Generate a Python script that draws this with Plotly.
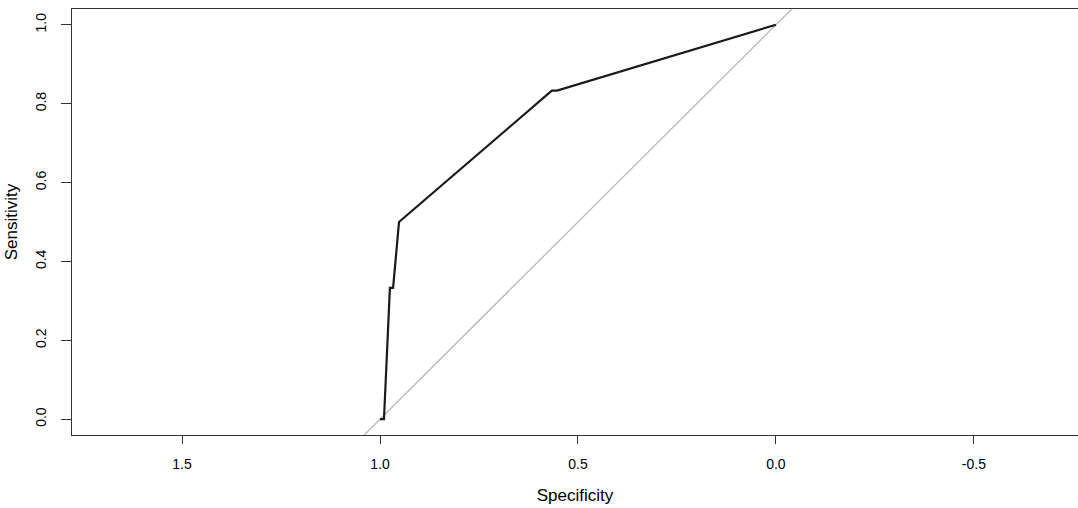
import plotly.graph_objects as go

specificity = [1.0, 0.99, 0.975, 0.967, 0.952, 0.566, 0.553, 0.0]
sensitivity = [0.0, 0.0, 0.333, 0.333, 0.5, 0.833, 0.833, 1.0]
diag_x = [1.2, -0.2]
diag_y = [-0.2, 1.2]
x_ticks = [1.5, 1.0, 0.5, 0.0, -0.5]
y_ticks = [0.0, 0.2, 0.4, 0.6, 0.8, 1.0]

fig = go.Figure()
fig.add_trace(go.Scatter(x=diag_x, y=diag_y, mode="lines",
                         line=dict(color="#b8b8b8", width=1.3), hoverinfo="skip"))
fig.add_trace(go.Scatter(x=specificity, y=sensitivity, mode="lines",
                         line=dict(color="#1a1a1a", width=2.2)))

font = dict(family="Liberation Sans, Arial, sans-serif", size=14, color="#000")
fig.update_layout(
    width=1078, height=508,
    margin=dict(l=72, r=0, t=9, b=73),
    plot_bgcolor="white", paper_bgcolor="white",
    showlegend=False, font=font,
    xaxis=dict(range=[1.778, -0.763], tickvals=x_ticks,
               ticktext=[f"{v:.1f}" for v in x_ticks],
               showgrid=False, zeroline=False, showline=True, linecolor="#333",
               linewidth=1, mirror=True, ticks="outside", ticklen=8, tickcolor="#333",
               ticklabelstandoff=8,
               title=dict(text="Specificity", standoff=18)),
    yaxis=dict(range=[-0.04, 1.04], tickvals=y_ticks,
               ticktext=[f"{v:.1f}" for v in y_ticks], tickangle=-90,
               showgrid=False, zeroline=False, showline=True, linecolor="#333",
               linewidth=1, ticks="outside", ticklen=10, tickcolor="#333",
               ticklabelstandoff=9,
               title=dict(text="Sensitivity", standoff=11)),
)
fig.write_html("out.html")
